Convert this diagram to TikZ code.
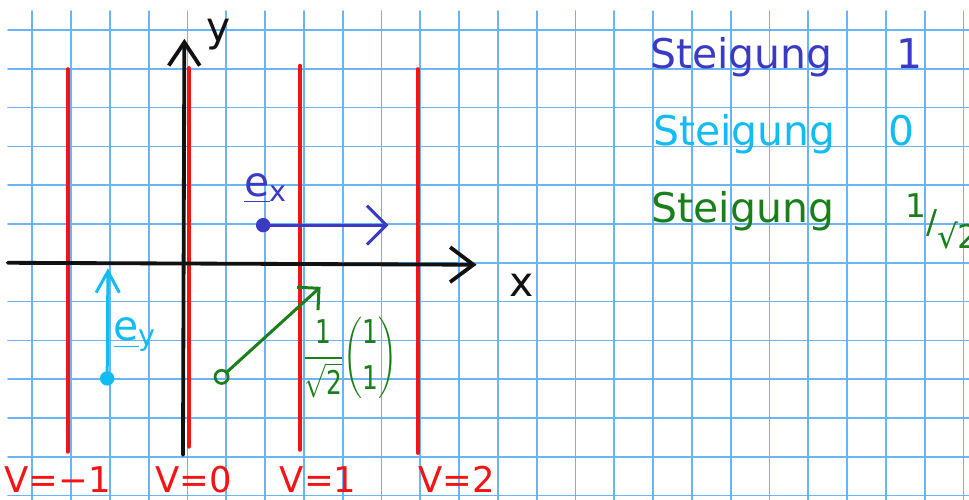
\documentclass[tikz,border=0pt]{standalone}
\usepackage{amsmath}
\usepackage{fontspec}
\setmainfont{DejaVu Sans}
\usetikzlibrary{arrows.meta}
\definecolor{gridblue}{HTML}{6AB4FA}
\definecolor{penred}{HTML}{F51414}
\definecolor{penblue}{HTML}{3A3AC4}
\definecolor{pencyan}{HTML}{12BCF2}
\definecolor{pengreen}{HTML}{1A7F1A}
\definecolor{ink}{HTML}{111111}
\tikzset{
    every picture/.style={line cap=round,line join=round},
    gridline/.style={draw=gridblue,line width=1.2pt},
    levelline/.style={draw=penred,line width=2.9pt},
    axisline/.style={draw=ink,line width=2.8pt},
    vecline/.style={line width=2.2pt},
    handtext/.style={inner sep=0pt,font=\fontsize{30}{36}\selectfont},
    levellabel/.style={handtext,text=penred,anchor=base,text depth=0pt,font=\fontsize{26}{31}\selectfont},
    startdot/.style={circle,inner sep=0pt,minimum size=3mm,line width=2pt}
}
\begin{document}
\begin{tikzpicture}
  \useasboundingbox (-4.832,-6.113) rectangle (20.142,6.773);
  \draw[gridline] (-4.626,-6.113) grid (20.142,6.49);
  \foreach \x/\ya/\yb in {-3.09/4.99/-4.87,0.03/5.02/-4.74,2.90/5.08/-4.82,5.93/4.99/-4.90}
    \draw[levelline] (\x,\ya) -- (\x,\yb);
  \foreach \x/\lab [count=\i] in {-3.35/V=−1,0.15/V=0,3.37/V=1,6.94/V=2}
    \node[levellabel] (lev\i) at (\x,-5.92) {\lab};
  \coordinate (xs) at (-4.63,0); \coordinate (xe) at (7.45,-0.05);
  \coordinate (ys) at (-0.116,-4.95); \coordinate (ye) at (-0.08,5.77);
  \draw[axisline,-{Straight Barb[length=6mm,width=9mm]}] (xs) -- (xe);
  \draw[axisline,-{Straight Barb[length=6mm,width=8mm]}] (ys) -- (ye);
  \node[handtext,text=ink] (ly) at (0.81,5.88) {y};
  \node[handtext,text=ink] (lx) at (8.61,-0.59) {x};
  \node[startdot,draw=penblue,fill=penblue] (ox) at (1.95,0.97) {};
  \coordinate (tx) at (5.18,0.97);
  \draw[vecline,penblue,-{Straight Barb[length=5mm,width=10mm]}] (ox) -- (tx);
  \node[handtext,text=penblue] (lex) at (2.02,1.91) {\underline{e}\textsubscript{x}};
  \node[startdot,draw=pencyan,fill=pencyan] (oy) at (-2.07,-2.98) {};
  \coordinate (ty) at (-2.05,-0.14);
  \draw[vecline,pencyan,-{Straight Barb[length=5.5mm,width=6mm]}] (oy) -- (ty);
  \node[handtext,text=pencyan] (ley) at (-1.35,-1.86) {\underline{e}\textsubscript{y}};
  \node[startdot,draw=pengreen,minimum size=3.4mm] (od) at (0.88,-2.94) {};
  \coordinate (td) at (3.43,-0.62);
  \draw[vecline,pengreen,-{Straight Barb[length=4mm,width=8mm]}] (od) -- (td);
  \node[handtext,text=pengreen,font=\fontsize{24}{29}\selectfont] (ld) at (4.2,-2.45)
    {\scalebox{0.76}[1]{$\displaystyle\frac{\text{1}}{\sqrt{\text{2}}}\binom{\text{1}}{\text{1}}$}};
  \node[handtext,text=penblue,anchor=base west] (s1) at (11.92,5.02) {Steigung};
  \node[handtext,text=penblue,anchor=base] (val1) at (18.6,5.02) {1};
  \node[handtext,text=pencyan,anchor=base west] (s2) at (12.0,3.03) {Steigung};
  \node[handtext,text=pencyan,anchor=base] (val2) at (18.41,3.03) {0};
  \node[handtext,text=pengreen,anchor=base west] (s3) at (11.96,1.03) {Steigung};
  \node[handtext,text=pengreen,anchor=west,font=\fontsize{24}{28}\selectfont] (val3) at (18.49,1.07)
    {\raisebox{0.5em}{1}/\raisebox{-0.45em}{√2}};
\end{tikzpicture}
\end{document}
